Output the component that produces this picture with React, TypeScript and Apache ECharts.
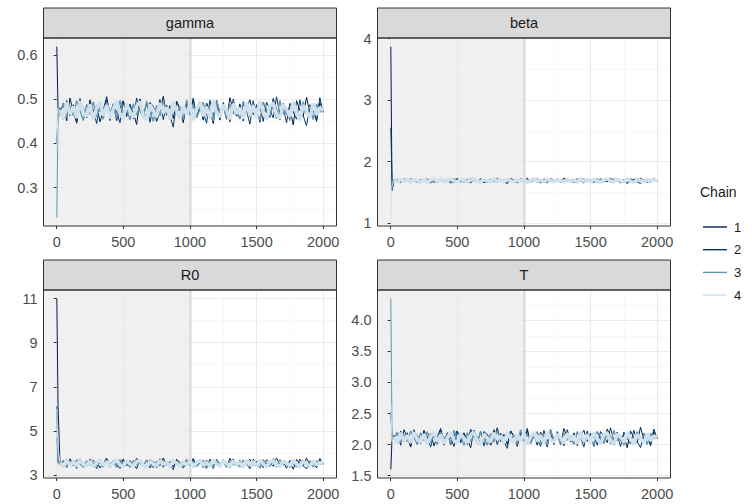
import React, { useEffect, useRef } from 'react';
import * as echarts from 'echarts';

// ---------- data ----------
const PARAMS = ['gamma', 'beta', 'R0', 'T'];
const CHAINS = ['1', '2', '3', '4'];
const N_WARMUP = 1000;
// thinned draws: iterations 1, 10, then every 25th
const ITER = [1, 10, ...Array.from({ length: 80 }, (_, i) => 25 * (i + 1))];

const GAMMA_1 = [0.620, 0.480,
  .468,.492,.451,.503,.472,.446,.495,.481,.458,.499,
  .463,.487,.449,.476,.506,.466,.490,.452,.480,.497,
  .461,.488,.470,.443,.501,.474,.456,.493,.484,.450,
  .471,.507,.464,.486,.457,.496,.477,.447,.489,.469,
  .500,.460,.483,.453,.492,.473,.445,.498,.467,.485,
  .455,.504,.475,.462,.490,.451,.481,.499,.465,.488,
  .448,.494,.471,.459,.502,.478,.454,.491,.466,.483,
  .442,.497,.476,.461,.505,.469,.486,.450,.493,.474];
const GAMMA_2 = [0.400, 0.470,
  .481,.455,.497,.463,.488,.449,.502,.470,.458,.494,
  .476,.445,.490,.467,.499,.452,.484,.472,.447,.496,
  .465,.489,.456,.503,.474,.460,.492,.448,.483,.469,
  .500,.454,.487,.463,.437,.495,.478,.451,.491,.466,
  .503,.459,.482,.471,.446,.498,.464,.486,.453,.493,
  .475,.449,.501,.468,.457,.489,.473,.444,.497,.462,
  .485,.450,.494,.477,.458,.506,.466,.483,.447,.491,
  .472,.455,.499,.463,.440,.488,.476,.452,.504,.470];
const GAMMA_3 = [0.232, 0.455,
  .470,.492,.458,.485,.463,.497,.474,.452,.489,.466,
  .495,.460,.481,.455,.493,.471,.486,.457,.498,.468,
  .479,.453,.490,.465,.484,.459,.496,.473,.450,.487,
  .462,.494,.476,.456,.491,.469,.483,.454,.499,.464,
  .488,.458,.477,.494,.461,.482,.451,.497,.472,.486,
  .457,.490,.467,.480,.455,.496,.475,.460,.489,.470,
  .453,.493,.478,.462,.487,.456,.498,.466,.481,.452,
  .491,.474,.459,.495,.468,.485,.454,.490,.471,.479];
const GAMMA_4 = [0.385, 0.480,
  .476,.455,.493,.466,.484,.458,.496,.471,.461,.489,
  .454,.480,.494,.463,.487,.457,.478,.497,.468,.456,
  .490,.473,.459,.485,.495,.464,.452,.488,.475,.460,
  .492,.469,.482,.455,.496,.472,.458,.486,.465,.491,
  .453,.479,.494,.462,.483,.457,.497,.470,.460,.488,
  .474,.455,.490,.467,.481,.456,.493,.463,.486,.459,
  .496,.471,.454,.484,.492,.466,.457,.489,.477,.461,
  .495,.468,.453,.487,.473,.458,.491,.465,.482,.475];

const BETA_1 = [3.87, 1.52,
  1.68,1.71,1.66,1.72,1.69,1.65,1.71,1.70,1.67,1.72,
  1.68,1.70,1.66,1.69,1.73,1.67,1.71,1.65,1.70,1.72,
  1.67,1.70,1.69,1.65,1.72,1.69,1.66,1.71,1.70,1.66,
  1.69,1.73,1.67,1.70,1.66,1.72,1.69,1.65,1.71,1.68,
  1.72,1.67,1.70,1.66,1.71,1.69,1.65,1.72,1.68,1.70,
  1.66,1.73,1.69,1.67,1.71,1.65,1.70,1.72,1.67,1.70,
  1.65,1.71,1.69,1.67,1.72,1.70,1.66,1.71,1.68,1.70,
  1.64,1.72,1.69,1.67,1.73,1.68,1.70,1.66,1.72,1.69];
const BETA_2 = [2.55, 1.68,
  1.70,1.66,1.72,1.67,1.71,1.65,1.72,1.69,1.66,1.71,
  1.69,1.65,1.71,1.68,1.72,1.66,1.70,1.69,1.65,1.72,
  1.67,1.71,1.66,1.73,1.69,1.67,1.71,1.65,1.70,1.68,
  1.72,1.66,1.70,1.67,1.64,1.72,1.70,1.66,1.71,1.68,
  1.73,1.67,1.70,1.69,1.65,1.72,1.67,1.71,1.66,1.72,
  1.69,1.65,1.72,1.68,1.66,1.71,1.69,1.65,1.72,1.67,
  1.70,1.66,1.72,1.69,1.67,1.73,1.68,1.70,1.65,1.71,
  1.69,1.66,1.72,1.67,1.64,1.71,1.69,1.66,1.73,1.68];
const BETA_3 = [1.72, 1.69,
  1.69,1.71,1.67,1.70,1.68,1.72,1.69,1.66,1.71,1.68,
  1.72,1.67,1.70,1.66,1.71,1.69,1.70,1.67,1.72,1.68,
  1.70,1.66,1.71,1.68,1.70,1.67,1.72,1.69,1.66,1.71,
  1.67,1.72,1.69,1.66,1.71,1.68,1.70,1.66,1.72,1.68,
  1.71,1.67,1.69,1.72,1.67,1.70,1.66,1.72,1.69,1.70,
  1.67,1.71,1.68,1.70,1.66,1.72,1.69,1.67,1.71,1.68,
  1.66,1.72,1.69,1.67,1.71,1.66,1.72,1.68,1.70,1.66,
  1.71,1.69,1.67,1.72,1.68,1.70,1.66,1.71,1.69,1.70];
const BETA_4 = [1.09, 1.60,
  1.69,1.67,1.71,1.68,1.70,1.67,1.71,1.69,1.67,1.71,
  1.66,1.70,1.72,1.68,1.71,1.67,1.69,1.72,1.68,1.67,
  1.71,1.69,1.67,1.70,1.72,1.68,1.66,1.71,1.69,1.67,
  1.72,1.68,1.70,1.67,1.71,1.69,1.67,1.70,1.68,1.71,
  1.66,1.69,1.72,1.68,1.70,1.67,1.71,1.69,1.67,1.70,
  1.69,1.67,1.71,1.68,1.70,1.66,1.72,1.68,1.70,1.67,
  1.71,1.69,1.66,1.70,1.72,1.68,1.67,1.71,1.69,1.67,
  1.72,1.68,1.66,1.70,1.69,1.67,1.71,1.68,1.70,1.69];

const R0_1 = [11.0, 6.2,
  3.48,3.66,3.34,3.73,3.51,3.30,3.69,3.58,3.38,3.71,
  3.45,3.62,3.32,3.53,3.76,3.43,3.65,3.35,3.57,3.70,
  3.41,3.63,3.49,3.28,3.72,3.52,3.37,3.68,3.60,3.33,
  3.50,3.77,3.44,3.61,3.36,3.70,3.54,3.31,3.64,3.47,
  3.71,3.40,3.59,3.34,3.67,3.51,3.29,3.72,3.46,3.62,
  3.35,3.75,3.52,3.42,3.66,3.33,3.58,3.71,3.44,3.63,
  3.31,3.69,3.49,3.39,3.74,3.55,3.35,3.66,3.45,3.60,
  3.26,3.70,3.53,3.40,3.76,3.47,3.62,3.33,3.68,3.51];
const R0_2 = [6.1, 3.6,
  3.58,3.36,3.70,3.43,3.64,3.31,3.73,3.49,3.38,3.69,
  3.54,3.29,3.66,3.46,3.72,3.34,3.61,3.50,3.30,3.71,
  3.44,3.65,3.37,3.76,3.52,3.41,3.68,3.32,3.60,3.47,
  3.74,3.35,3.63,3.44,3.25,3.70,3.56,3.33,3.67,3.45,
  3.75,3.39,3.59,3.49,3.30,3.72,3.43,3.62,3.35,3.69,
  3.53,3.31,3.73,3.47,3.38,3.66,3.51,3.28,3.71,3.42,
  3.61,3.33,3.70,3.55,3.39,3.77,3.45,3.60,3.30,3.67,
  3.50,3.36,3.72,3.43,3.27,3.64,3.54,3.34,3.75,3.48];
const R0_3 = [4.7, 3.5,
  3.47,3.66,3.38,3.60,3.42,3.69,3.51,3.35,3.64,3.45,
  3.68,3.40,3.58,3.36,3.67,3.49,3.61,3.37,3.70,3.46,
  3.56,3.34,3.65,3.44,3.59,3.39,3.68,3.50,3.33,3.63,
  3.41,3.67,3.53,3.37,3.65,3.47,3.58,3.35,3.71,3.43,
  3.62,3.38,3.54,3.67,3.40,3.57,3.33,3.69,3.49,3.61,
  3.37,3.64,3.45,3.56,3.36,3.68,3.52,3.39,3.63,3.47,
  3.34,3.66,3.55,3.41,3.62,3.36,3.70,3.44,3.57,3.33,
  3.65,3.50,3.38,3.67,3.46,3.60,3.35,3.64,3.48,3.55];
const R0_4 = [6.0, 4.2,
  3.53,3.38,3.66,3.45,3.59,3.39,3.67,3.49,3.41,3.63,
  3.36,3.56,3.68,3.43,3.61,3.38,3.54,3.69,3.46,3.37,
  3.64,3.51,3.40,3.60,3.68,3.44,3.35,3.62,3.52,3.41,
  3.66,3.48,3.57,3.37,3.68,3.50,3.39,3.61,3.45,3.65,
  3.35,3.55,3.67,3.43,3.58,3.38,3.69,3.49,3.41,3.62,
  3.52,3.37,3.64,3.47,3.57,3.36,3.67,3.44,3.60,3.39,
  3.68,3.50,3.36,3.59,3.66,3.46,3.38,3.63,3.54,3.42,
  3.67,3.48,3.35,3.61,3.51,3.39,3.65,3.45,3.57,3.53];

const T_1 = [1.60, 2.10,
  2.08,2.20,1.99,2.24,2.11,1.96,2.21,2.15,2.02,2.23,
  2.06,2.18,1.98,2.12,2.26,2.05,2.19,2.00,2.14,2.22,
  2.03,2.18,2.09,1.95,2.23,2.12,2.01,2.21,2.16,1.99,
  2.10,2.27,2.05,2.17,2.00,2.22,2.13,1.97,2.19,2.07,
  2.23,2.03,2.15,1.99,2.20,2.11,1.96,2.24,2.06,2.18,
  2.00,2.26,2.12,2.04,2.19,1.98,2.14,2.23,2.05,2.18,
  1.97,2.21,2.09,2.02,2.25,2.13,2.00,2.20,2.06,2.16,
  1.95,2.22,2.11,2.03,2.28,2.08,2.17,1.98,2.21,2.10];
const T_2 = [2.52, 2.12,
  2.15,2.01,2.22,2.05,2.19,1.97,2.24,2.09,2.02,2.21,
  2.13,1.96,2.20,2.07,2.23,1.99,2.17,2.11,1.97,2.22,
  2.06,2.19,2.00,2.25,2.12,2.04,2.21,1.98,2.16,2.08,
  2.24,2.00,2.18,2.05,1.94,2.22,2.14,1.99,2.20,2.06,
  2.26,2.02,2.16,2.10,1.97,2.23,2.05,2.18,2.00,2.21,
  2.12,1.98,2.24,2.08,2.02,2.19,2.11,1.96,2.22,2.04,
  2.17,1.99,2.21,2.13,2.03,2.27,2.06,2.16,1.97,2.20,
  2.10,2.01,2.23,2.05,1.95,2.18,2.13,2.00,2.25,2.09];
const T_3 = [4.35, 2.20,
  2.09,2.20,2.02,2.16,2.05,2.22,2.11,2.00,2.19,2.06,
  2.21,2.03,2.15,2.00,2.20,2.09,2.17,2.02,2.23,2.07,
  2.14,1.99,2.19,2.05,2.16,2.02,2.21,2.10,1.99,2.18,
  2.04,2.21,2.12,2.01,2.19,2.08,2.15,2.00,2.24,2.05,
  2.17,2.02,2.13,2.21,2.03,2.15,1.99,2.22,2.09,2.17,
  2.01,2.19,2.07,2.14,2.00,2.21,2.11,2.03,2.18,2.08,
  1.99,2.20,2.13,2.04,2.17,2.01,2.23,2.06,2.15,1.99,
  2.19,2.10,2.02,2.21,2.07,2.16,2.00,2.18,2.09,2.13];
const T_4 = [2.66, 2.05,
  2.12,2.02,2.19,2.06,2.15,2.03,2.20,2.09,2.04,2.17,
  2.01,2.13,2.20,2.05,2.16,2.02,2.11,2.20,2.07,2.02,
  2.18,2.10,2.03,2.15,2.20,2.06,2.00,2.17,2.11,2.04,
  2.19,2.08,2.14,2.02,2.20,2.09,2.03,2.16,2.06,2.18,
  2.00,2.12,2.20,2.05,2.15,2.02,2.21,2.08,2.04,2.17,
  2.11,2.02,2.18,2.07,2.14,2.01,2.20,2.05,2.16,2.03,
  2.20,2.09,2.01,2.15,2.19,2.06,2.02,2.17,2.12,2.04,
  2.20,2.08,2.00,2.16,2.10,2.03,2.18,2.06,2.14,2.11];

const X_TICKS = [0, 500, 1000, 1500, 2000];
const X_MINOR = [250, 750, 1250, 1750];
const GAMMA_TICKS = [0.3, 0.4, 0.5, 0.6];
const GAMMA_MINOR = [0.25, 0.35, 0.45, 0.55];
const BETA_TICKS = [1, 2, 3, 4];
const BETA_MINOR = [1.5, 2.5, 3.5];
const R0_TICKS = [3, 5, 7, 9, 11];
const R0_MINOR = [4, 6, 8, 10];
const T_TICKS = [1.5, 2.0, 2.5, 3.0, 3.5, 4.0];
const T_MINOR = [1.75, 2.25, 2.75, 3.25, 3.75, 4.25];

// ---------- presentation ----------
const CHAIN_COLORS = ['#011f4b', '#03396c', '#6497b1', '#d1e1ec'];
// line width of the warm-start part and of the stationary part of each chain
const START_WIDTH = 1;
const BAND_WIDTHS = [1, 1, 1.4, 3.4];
const FONT = 'Liberation Sans, Arial, Helvetica, sans-serif';
const AXIS_FS = 14.5;

const PANEL_DATA = [
  { name: PARAMS[0], chains: [GAMMA_1, GAMMA_2, GAMMA_3, GAMMA_4], ticks: GAMMA_TICKS, minor: GAMMA_MINOR, fmt: (v: number) => v.toFixed(1) },
  { name: PARAMS[1], chains: [BETA_1, BETA_2, BETA_3, BETA_4], ticks: BETA_TICKS, minor: BETA_MINOR, fmt: (v: number) => String(Math.round(v)) },
  { name: PARAMS[2], chains: [R0_1, R0_2, R0_3, R0_4], ticks: R0_TICKS, minor: R0_MINOR, fmt: (v: number) => String(Math.round(v)) },
  { name: PARAMS[3], chains: [T_1, T_2, T_3, T_4], ticks: T_TICKS, minor: T_MINOR, fmt: (v: number) => v.toFixed(1) },
];

const LAYOUT = [
  { left: 43.5, top: 38 },
  { left: 377.5, top: 38 },
  { left: 43.5, top: 290 },
  { left: 377.5, top: 290 },
];
const PW = 293;
const PH = 188;
const STRIP_H = 30;

function expand(vals: number[]) {
  const lo = Math.min(...vals);
  const hi = Math.max(...vals);
  const pad = (hi - lo) * 0.05;
  return [lo - pad, hi + pad];
}

export default function App() {
  const ref = useRef<HTMLDivElement>(null);
  useEffect(() => {
    if (!ref.current) return;
    const chart = echarts.init(ref.current, undefined, { renderer: 'svg' });
    const [xMin, xMax] = expand(ITER);

    const grids: any[] = [];
    const xAxes: any[] = [];
    const yAxes: any[] = [];
    const series: any[] = [];
    const graphics: any[] = [];

    PANEL_DATA.forEach((p, i) => {
      const L = LAYOUT[i];
      const [yMin, yMax] = expand(p.chains.flat());
      grids.push({ left: L.left, top: L.top, width: PW, height: PH, show: false });
      xAxes.push({
        type: 'value', gridIndex: i, min: xMin, max: xMax,
        axisLine: { show: false },
        splitLine: { show: false },
        axisTick: { show: true, customValues: X_TICKS, length: 3, lineStyle: { color: '#333333', width: 1 } },
        axisLabel: { customValues: X_TICKS, formatter: (v: number) => String(v), color: '#4d4d4d', fontSize: AXIS_FS, fontFamily: FONT, margin: 8 },
      });
      yAxes.push({
        type: 'value', gridIndex: i, min: yMin, max: yMax,
        axisLine: { show: false },
        splitLine: { show: false },
        axisTick: { show: true, customValues: p.ticks, length: 3, lineStyle: { color: '#333333', width: 1 } },
        axisLabel: { customValues: p.ticks, formatter: p.fmt, color: '#4d4d4d', fontSize: AXIS_FS, fontFamily: FONT, margin: 6 },
      });
      const gridLines: any[] = [];
      X_MINOR.forEach(v => gridLines.push({ xAxis: v, lineStyle: { color: '#f3f3f3', width: 0.6, type: 'solid' } }));
      p.minor.forEach(v => gridLines.push({ yAxis: v, lineStyle: { color: '#f3f3f3', width: 0.6, type: 'solid' } }));
      X_TICKS.forEach(v => gridLines.push({ xAxis: v, lineStyle: { color: '#ebebeb', width: 1.1, type: 'solid' } }));
      p.ticks.forEach(v => gridLines.push({ yAxis: v, lineStyle: { color: '#ebebeb', width: 1.1, type: 'solid' } }));
      gridLines.push({ xAxis: N_WARMUP, lineStyle: { color: 'rgba(170,170,170,0.25)', width: 3, type: 'solid' } });
      series.push({
        type: 'line', name: 'bg' + i, xAxisIndex: i, yAxisIndex: i, data: [], silent: true, z: 0,
        markArea: {
          silent: true, z: 0,
          itemStyle: { color: 'rgba(170,170,170,0.18)' },
          data: [[{ xAxis: xMin }, { xAxis: N_WARMUP }]],
        },
        markLine: { silent: true, symbol: 'none', z: 0, label: { show: false }, data: gridLines },
      });
      p.chains.forEach((vals, c) => {
        const pts = ITER.map((it, k) => [it, vals[k]]);
        // warm-start segment (first draws) and stationary segment of the same chain
        series.push({
          type: 'line', name: CHAINS[c], xAxisIndex: i, yAxisIndex: i,
          data: pts.slice(0, 3),
          showSymbol: false, symbol: 'none', z: 2,
          color: CHAIN_COLORS[c],
          lineStyle: { color: CHAIN_COLORS[c], width: START_WIDTH, join: 'bevel' },
        });
        series.push({
          type: 'line', name: CHAINS[c], xAxisIndex: i, yAxisIndex: i,
          data: pts.slice(2),
          showSymbol: false, symbol: 'none', z: 2,
          color: CHAIN_COLORS[c],
          lineStyle: { color: CHAIN_COLORS[c], width: BAND_WIDTHS[c], join: 'bevel' },
        });
      });
      // strip
      graphics.push({
        type: 'rect', z: 50,
        shape: { x: L.left, y: L.top - STRIP_H, width: PW, height: STRIP_H },
        style: { fill: '#d9d9d9', stroke: '#333333', lineWidth: 1 },
      });
      graphics.push({
        type: 'text', z: 51, x: L.left + PW / 2, y: L.top - STRIP_H / 2,
        style: { text: p.name, fill: '#1a1a1a', fontSize: AXIS_FS, fontFamily: FONT, align: 'center', verticalAlign: 'middle' },
      });
      // panel border
      graphics.push({
        type: 'rect', z: 50,
        shape: { x: L.left, y: L.top, width: PW, height: PH },
        style: { fill: 'none', stroke: '#333333', lineWidth: 1 },
      });
    });

    graphics.push({
      type: 'text', z: 51, x: 700, y: 192,
      style: { text: 'Chain', fill: '#1a1a1a', fontSize: 14, fontFamily: FONT, align: 'left', verticalAlign: 'middle' },
    });

    chart.setOption({
      animation: false,
      backgroundColor: '#ffffff',
      grid: grids,
      xAxis: xAxes,
      yAxis: yAxes,
      series,
      graphic: graphics,
      legend: {
        data: CHAINS, orient: 'vertical', left: 703, top: 220, padding: 0,
        icon: 'rect', itemWidth: 24, itemHeight: 1.4, itemGap: 8.7,
        selectedMode: false,
        textStyle: { fontSize: 13, color: '#1a1a1a', fontFamily: FONT, lineHeight: 14, padding: [0, 0, 0, 2] },
      },
    });
    return () => chart.dispose();
  }, []);
  return <div ref={ref} style={{ position: 'fixed', left: 0, top: 0, width: 752, height: 504 }} />;
}
